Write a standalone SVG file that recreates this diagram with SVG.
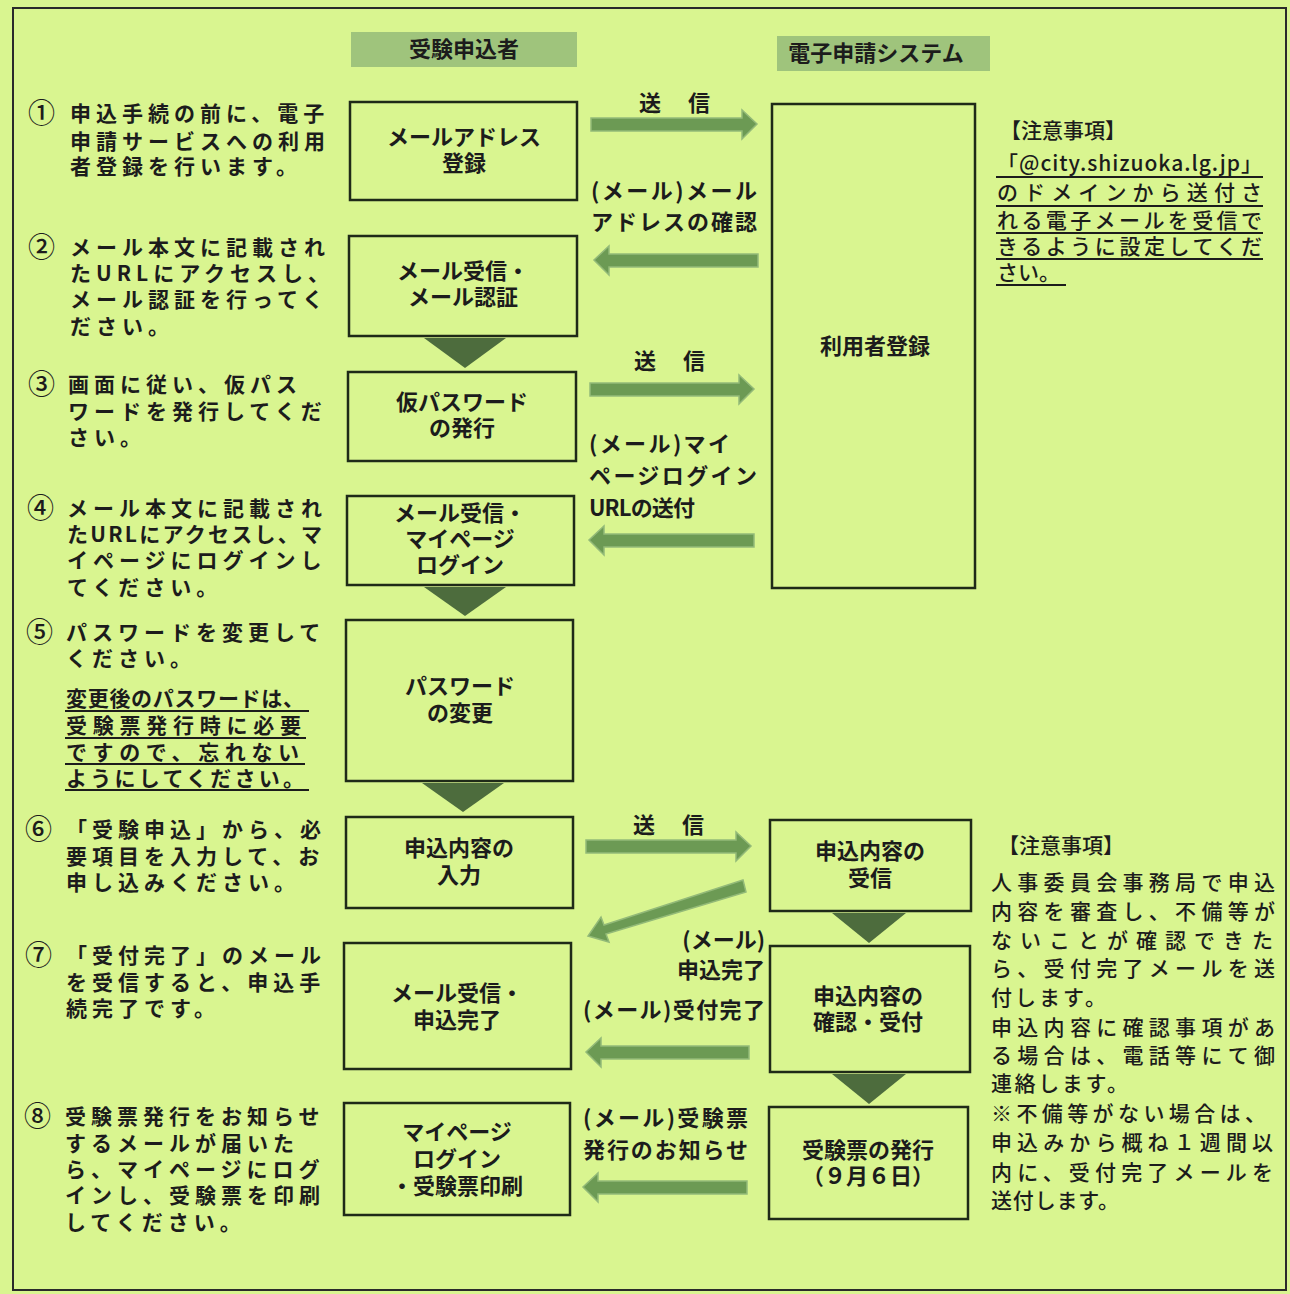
<svg xmlns="http://www.w3.org/2000/svg" width="1290" height="1294" viewBox="0 0 1290 1294">
<style>
text{font-family:"Noto Sans CJK JP","Noto Sans",sans-serif;fill:#1c1c1c;font-weight:700;font-size:22px}
.c{text-anchor:middle}
.box{fill:none;stroke:#1f2a18;stroke-width:2.5}
.hdr{fill:#9fc47c}
.arr{fill:#6c9a54;stroke:#93ba78;stroke-width:1.5}
.tri{fill:#4d6c3d}
.ul{stroke:#1c1c1c;stroke-width:2}
.lt{letter-spacing:5px;font-size:21px}
.num{font-size:27px;font-weight:500}
.nt{font-size:21px;font-weight:500}
</style>
<rect x="0" y="0" width="1290" height="1294" fill="#d9f590"/>
<rect x="13" y="8" width="1273" height="1282" fill="none" stroke="#2a2a2a" stroke-width="2"/>

<g id="header-applicant"><rect class="hdr" x="351" y="32" width="226" height="35"/><text class="c" x="464" y="57">受験申込者</text></g>
<g id="header-system"><rect class="hdr" x="777" y="36" width="213" height="35"/><text class="c" x="876" y="61">電子申請システム</text></g>

<g id="connectors">
<polygon class="arr" points="591,118 742,118 742,110 757,124 742,139 742,131 591,131"/>
<polygon class="arr" points="758,254 609,254 609,246 594,260 609,275 609,267 758,267"/>
<polygon class="arr" points="590,383 739,383 739,375 754,389 739,404 739,396 590,396"/>
<polygon class="arr" points="754,534 604,534 604,526 589,540 604,555 604,547 754,547"/>
<polygon class="arr" points="586,840 736,840 736,832 751,846 736,861 736,853 586,853"/>
<polygon class="arr" points="743,880 604,925 601,917 588,936 609,942 606,934 746,892"/>
<polygon class="arr" points="749,1046 601,1046 601,1038 586,1052 601,1067 601,1059 749,1059"/>
<polygon class="arr" points="747,1181 598,1181 598,1173 583,1187 598,1202 598,1194 747,1194"/>
<polygon class="tri" points="424,338 506,338 465,368"/>
<polygon class="tri" points="424,587 506,587 465,616"/>
<polygon class="tri" points="422,783 504,783 463,812"/>
<polygon class="tri" points="832,913 906,913 869,943"/>
<polygon class="tri" points="832,1074 906,1074 869,1104"/>
<text x="639" y="111" textLength="71" lengthAdjust="spacing">送 信</text>
<text x="591" y="199"><tspan x="591" textLength="166" lengthAdjust="spacing">(メール)メール</tspan><tspan x="591" dy="31" textLength="166" lengthAdjust="spacing">アドレスの確認</tspan></text>
<text x="634" y="369" textLength="71" lengthAdjust="spacing">送 信</text>
<text x="589" y="452"><tspan x="589" textLength="141" lengthAdjust="spacing">(メール)マイ</tspan><tspan x="589" dy="32" textLength="168" lengthAdjust="spacing">ページログイン</tspan><tspan x="589" dy="32" textLength="106" lengthAdjust="spacing">URLの送付</tspan></text>
<text x="633" y="833" textLength="71" lengthAdjust="spacing">送 信</text>
<text x="765" y="948" text-anchor="end"><tspan x="765">(メール)</tspan><tspan x="765" dy="30">申込完了</tspan></text>
<text x="583" y="1018" textLength="182" lengthAdjust="spacing">(メール)受付完了</text>
<text x="583" y="1126"><tspan x="583" textLength="165" lengthAdjust="spacing">(メール)受験票</tspan><tspan x="583" dy="32" textLength="165" lengthAdjust="spacing">発行のお知らせ</tspan></text>
</g>

<g id="n1"><rect class="box" x="350" y="102" width="227" height="98"/><text class="c" x="464" y="145"><tspan x="464">メールアドレス</tspan><tspan x="464" dy="26">登録</tspan></text></g>
<g id="n2"><rect class="box" x="349" y="236" width="228" height="100"/><text class="c" x="463" y="279"><tspan x="463">メール受信・</tspan><tspan x="463" dy="26">メール認証</tspan></text></g>
<g id="n3"><rect class="box" x="348" y="372" width="228" height="89"/><text class="c" x="462" y="410"><tspan x="462">仮パスワード</tspan><tspan x="462" dy="26">の発行</tspan></text></g>
<g id="n4"><rect class="box" x="347" y="496" width="227" height="89"/><text class="c" x="460" y="521"><tspan x="460">メール受信・</tspan><tspan x="460" dy="26">マイページ</tspan><tspan x="460" dy="26">ログイン</tspan></text></g>
<g id="n5"><rect class="box" x="346" y="620" width="227" height="161"/><text class="c" x="460" y="694"><tspan x="460">パスワード</tspan><tspan x="460" dy="27">の変更</tspan></text></g>
<g id="n6"><rect class="box" x="346" y="817" width="227" height="91"/><text class="c" x="459" y="856"><tspan x="459">申込内容の</tspan><tspan x="459" dy="27">入力</tspan></text></g>
<g id="n7"><rect class="box" x="344" y="943" width="227" height="126"/><text class="c" x="457" y="1001"><tspan x="457">メール受信・</tspan><tspan x="457" dy="27">申込完了</tspan></text></g>
<g id="n8"><rect class="box" x="344" y="1103" width="226" height="112"/><text class="c" x="457" y="1140"><tspan x="457">マイページ</tspan><tspan x="457" dy="27">ログイン</tspan><tspan x="457" dy="27">・受験票印刷</tspan></text></g>

<g id="s1"><rect class="box" x="772" y="104" width="203" height="484"/><text class="c" x="875" y="354">利用者登録</text></g>
<g id="s2"><rect class="box" x="770" y="820" width="201" height="91"/><text class="c" x="870" y="859"><tspan x="870">申込内容の</tspan><tspan x="870" dy="27">受信</tspan></text></g>
<g id="s3"><rect class="box" x="770" y="946" width="200" height="126"/><text class="c" x="868" y="1004"><tspan x="868">申込内容の</tspan><tspan x="868" dy="26">確認・受付</tspan></text></g>
<g id="s4"><rect class="box" x="769" y="1107" width="199" height="112"/><text class="c" x="868" y="1158"><tspan x="868">受験票の発行</tspan><tspan x="868" dy="26">（９月６日）</tspan></text></g>

<g id="steps">
<text x="28" y="123" class="num">①</text>
<text x="70" y="121" class="lt"><tspan x="70">申込手続の前に、電子</tspan><tspan x="70" dy="28">申請サービスへの利用</tspan><tspan x="70" dy="25">者登録を行います。</tspan></text>
<text x="28" y="257" class="num">②</text>
<text x="70" y="255" class="lt"><tspan x="70">メール本文に記載され</tspan><tspan x="70" dy="26">たURLにアクセスし、</tspan><tspan x="70" dy="26">メール認証を行ってく</tspan><tspan x="70" dy="27">ださい。</tspan></text>
<text x="28" y="394" class="num">③</text>
<text x="68" y="392" class="lt"><tspan x="68">画面に従い、仮パス</tspan><tspan x="68" dy="27">ワードを発行してくだ</tspan><tspan x="68" dy="26">さい。</tspan></text>
<text x="27" y="518" class="num">④</text>
<text x="67" y="516" class="lt"><tspan x="67">メール本文に記載され</tspan><tspan x="67" dy="26" textLength="260" lengthAdjust="spacing">たURLにアクセスし、マ</tspan><tspan x="67" dy="26">イページにログインし</tspan><tspan x="67" dy="27">てください。</tspan></text>
<text x="26" y="642" class="num">⑤</text>
<text x="66" y="640" class="lt"><tspan x="66">パスワードを変更して</tspan><tspan x="66" dy="26">ください。</tspan></text>
<text x="66" y="706" class="lt"><tspan x="66" textLength="243" lengthAdjust="spacing">変更後のパスワードは、</tspan><tspan x="66" dy="27" textLength="240" lengthAdjust="spacing">受験票発行時に必要</tspan><tspan x="66" dy="27" textLength="238" lengthAdjust="spacing">ですので、忘れない</tspan><tspan x="66" dy="26" textLength="243" lengthAdjust="spacing">ようにしてください。</tspan></text>
<line class="ul" x1="65" y1="711" x2="309" y2="711"/>
<line class="ul" x1="65" y1="738" x2="306" y2="738"/>
<line class="ul" x1="65" y1="764" x2="305" y2="764"/>
<line class="ul" x1="65" y1="790" x2="309" y2="790"/>
<text x="25" y="839" class="num">⑥</text>
<text x="66" y="837" class="lt"><tspan x="66">「受験申込」から、必</tspan><tspan x="66" dy="27">要項目を入力して、お</tspan><tspan x="66" dy="26">申し込みください。</tspan></text>
<text x="25" y="965" class="num">⑦</text>
<text x="66" y="963" class="lt"><tspan x="66">「受付完了」のメール</tspan><tspan x="66" dy="27">を受信すると、申込手</tspan><tspan x="66" dy="26">続完了です。</tspan></text>
<text x="24" y="1126" class="num">⑧</text>
<text x="65" y="1124" class="lt"><tspan x="65">受験票発行をお知らせ</tspan><tspan x="65" dy="27">するメールが届いた</tspan><tspan x="65" dy="26">ら、マイページにログ</tspan><tspan x="65" dy="26">インし、受験票を印刷</tspan><tspan x="65" dy="27">してください。</tspan></text>
</g>

<g id="note1">
<text x="1000" y="138" class="nt">【注意事項】</text>
<text x="997" y="171" class="nt"><tspan x="997" textLength="265" lengthAdjust="spacing">「@city.shizuoka.lg.jp」</tspan><tspan x="997" dy="29" textLength="265" lengthAdjust="spacing">のドメインから送付さ</tspan><tspan x="997" dy="28" textLength="265" lengthAdjust="spacing">れる電子メールを受信で</tspan><tspan x="997" dy="26" textLength="265" lengthAdjust="spacing">きるように設定してくだ</tspan><tspan x="997" dy="26">さい。</tspan></text>
<line class="ul" x1="996" y1="177" x2="1263" y2="177"/>
<line class="ul" x1="996" y1="206" x2="1263" y2="206"/>
<line class="ul" x1="996" y1="233" x2="1263" y2="233"/>
<line class="ul" x1="996" y1="259" x2="1263" y2="259"/>
<line class="ul" x1="996" y1="285" x2="1066" y2="285"/>
</g>

<g id="note2">
<text x="998" y="853" class="nt">【注意事項】</text>
<text x="991" y="890" class="nt"><tspan x="991" textLength="284" lengthAdjust="spacing">人事委員会事務局で申込</tspan><tspan x="991" dy="29" textLength="284" lengthAdjust="spacing">内容を審査し、不備等が</tspan><tspan x="991" dy="29" textLength="282" lengthAdjust="spacing">ないことが確認できた</tspan><tspan x="991" dy="28" textLength="284" lengthAdjust="spacing">ら、受付完了メールを送</tspan><tspan x="991" dy="29" textLength="115" lengthAdjust="spacing">付します。</tspan><tspan x="991" dy="30" textLength="284" lengthAdjust="spacing">申込内容に確認事項があ</tspan><tspan x="991" dy="28" textLength="284" lengthAdjust="spacing">る場合は、電話等にて御</tspan><tspan x="991" dy="28" textLength="137" lengthAdjust="spacing">連絡します。</tspan><tspan x="991" dy="30" textLength="275" lengthAdjust="spacing">※不備等がない場合は、</tspan><tspan x="991" dy="29" textLength="282" lengthAdjust="spacing">申込みから概ね１週間以</tspan><tspan x="991" dy="30" textLength="282" lengthAdjust="spacing">内に、受付完了メールを</tspan><tspan x="991" dy="28" textLength="128" lengthAdjust="spacing">送付します。</tspan></text>
</g>
</svg>
